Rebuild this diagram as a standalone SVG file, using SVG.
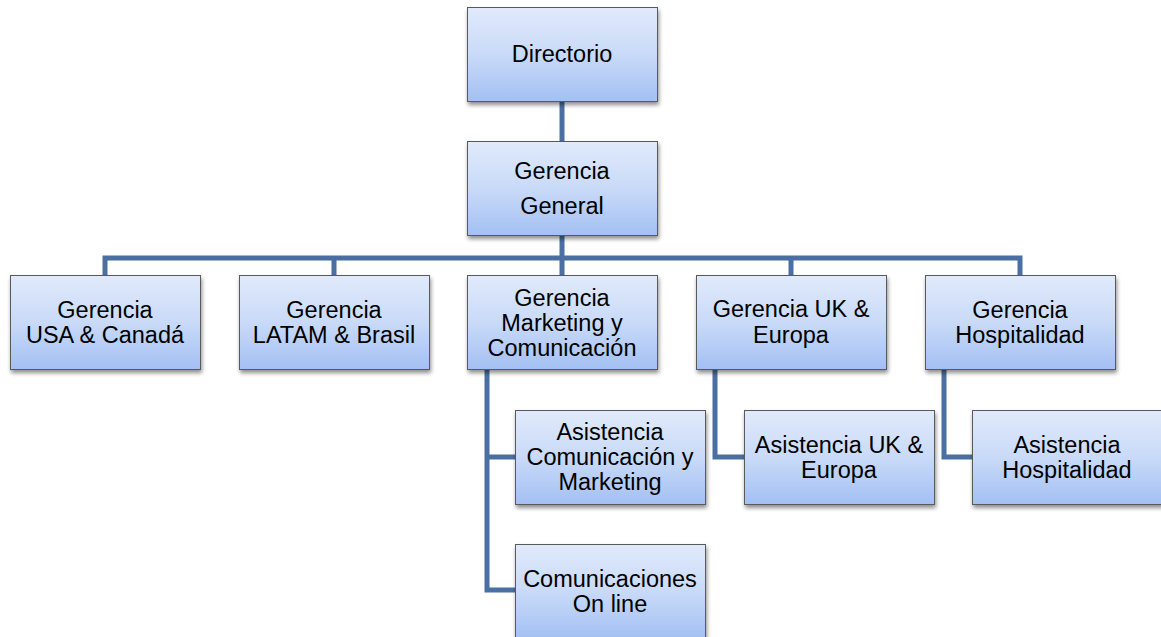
<svg xmlns="http://www.w3.org/2000/svg" width="1161" height="637" viewBox="0 0 1161 637">
<defs>
<linearGradient id="g" x1="0" y1="0" x2="0" y2="1">
<stop offset="0" stop-color="#e1eafb"/>
<stop offset="0.5" stop-color="#c9daf8"/>
<stop offset="1" stop-color="#a3c0f3"/>
</linearGradient>
<filter id="sh" x="-10%" y="-10%" width="125%" height="130%">
<feGaussianBlur in="SourceAlpha" stdDeviation="2"/>
<feOffset dx="1" dy="3" result="b"/>
<feComponentTransfer><feFuncA type="linear" slope="0.45"/></feComponentTransfer>
<feMerge><feMergeNode/><feMergeNode in="SourceGraphic"/></feMerge>
</filter>
</defs>
<style>
.box{fill:url(#g);stroke:#5a5a5a;stroke-width:1;filter:url(#sh)}
.t{font-family:"Liberation Sans",Arial,sans-serif;font-size:23.5px;fill:#000;text-anchor:middle}
.c{fill:none;stroke:#4a6fa3;stroke-width:5;stroke-linejoin:miter}
</style>
<rect width="1161" height="637" fill="#fff"/>
<g id="connectors">
<path class="c" d="M562 101V141"/>
<path class="c" d="M562 235V258M105 276V258H1020V276M334 258V276M562 258V276M791 258V276"/>
<path class="c" d="M487 369V590H515M487 457H515"/>
<path class="c" d="M715 369V457H744"/>
<path class="c" d="M944 369V457H972"/>
</g>
<g id="directorio"><rect class="box" x="467.5" y="7.5" width="190" height="94"/><text class="t" x="562" y="62">Directorio</text></g>
<g id="gerencia-general"><rect class="box" x="467.5" y="141.5" width="190" height="94"/><text class="t" x="562" y="179">Gerencia</text><text class="t" x="562" y="214">General</text></g>
<g id="usa"><rect class="box" x="10.5" y="275.5" width="190" height="94"/><text class="t" x="105" y="318">Gerencia</text><text class="t" x="105" y="343">USA &amp; Canadá</text></g>
<g id="latam"><rect class="box" x="239.5" y="275.5" width="190" height="94"/><text class="t" x="334" y="318">Gerencia</text><text class="t" x="334" y="343">LATAM &amp; Brasil</text></g>
<g id="marketing"><rect class="box" x="467.5" y="275.5" width="190" height="94"/><text class="t" x="562" y="306">Gerencia</text><text class="t" x="562" y="331">Marketing y</text><text class="t" x="562" y="356">Comunicación</text></g>
<g id="uk"><rect class="box" x="696.5" y="275.5" width="190" height="94"/><text class="t" x="791" y="317">Gerencia UK &amp;</text><text class="t" x="791" y="343">Europa</text></g>
<g id="hospitalidad"><rect class="box" x="925.5" y="275.5" width="190" height="94"/><text class="t" x="1020" y="318">Gerencia</text><text class="t" x="1020" y="343">Hospitalidad</text></g>
<g id="asist-com"><rect class="box" x="515.5" y="410.5" width="190" height="94"/><text class="t" x="610" y="440">Asistencia</text><text class="t" x="610" y="465">Comunicación y</text><text class="t" x="610" y="490">Marketing</text></g>
<g id="com-online"><rect class="box" x="515.5" y="544.5" width="190" height="94"/><text class="t" x="610" y="587">Comunicaciones</text><text class="t" x="610" y="612">On line</text></g>
<g id="asist-uk"><rect class="box" x="744.5" y="410.5" width="190" height="94"/><text class="t" x="839" y="453">Asistencia UK &amp;</text><text class="t" x="839" y="478">Europa</text></g>
<g id="asist-hosp"><rect class="box" x="972.5" y="410.5" width="190" height="94"/><text class="t" x="1067" y="453">Asistencia</text><text class="t" x="1067" y="478">Hospitalidad</text></g>
</svg>
